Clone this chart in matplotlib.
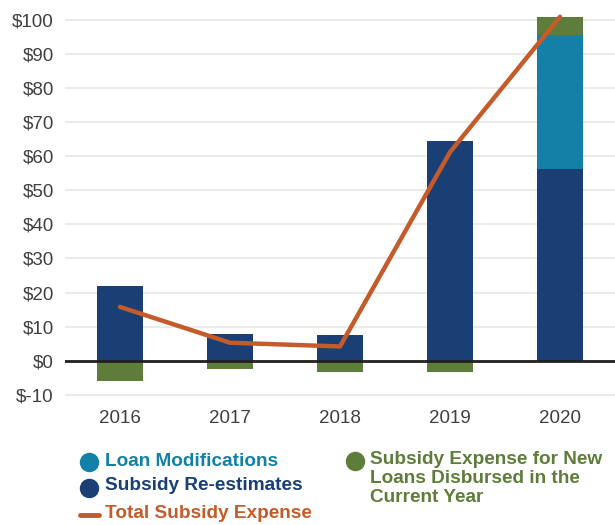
import matplotlib
matplotlib.use("Agg")
import matplotlib.pyplot as plt
from matplotlib.lines import Line2D
import numpy as np

plt.rcParams["font.family"] = ["Liberation Sans", "DejaVu Sans"]

# -- Data ($ millions) --------------------------------------------------------
years = ["2016", "2017", "2018", "2019", "2020"]
reestimates = [21.9, 7.8, 7.5, 64.4, 56.2]
modifications = [0.0, 0.0, 0.0, 0.0, 39.3]
new_loans = [-5.9, -2.5, -3.2, -3.2, 5.4]
total = [15.8, 5.3, 4.2, 61.2, 100.9]

yticks = list(range(-10, 101, 10))

NAVY = "#193f74"
TEAL = "#1380a8"
GREEN = "#5f7d3a"
ORANGE = "#c55b2a"
GRID = "#e8e8e8"
TICK = "#404040"

W, H = 615, 525
fig = plt.figure(figsize=(W / 100, H / 100), dpi=100)

def fx(px):
    return px / W

def fy(py):
    return 1 - py / H

ax = fig.add_axes([fx(65), fy(400), fx(615) - fx(65), fy(13) - fy(400)])

x = np.arange(len(years))
width = 0.42
re = np.array(reestimates)
mod = np.array(modifications)
nl = np.array(new_loans)

ax.bar(x, re, width, color=NAVY, zorder=2)
ax.bar(x, mod, width, bottom=re, color=TEAL, zorder=2)
nl_bottom = np.where(nl > 0, re + mod, 0)
ax.bar(x, nl, width, bottom=nl_bottom, color=GREEN, zorder=2)

ax.plot(x, total, color=ORANGE, lw=3.2, solid_capstyle="round",
        solid_joinstyle="round", zorder=4)

ax.axhline(0, color="#231f20", lw=2, zorder=3)

ax.set_xlim(-0.5, 4.5)
ax.set_ylim(-11.5, 102)
ax.set_yticks(yticks)
ax.set_yticklabels([f"${v}" for v in yticks])
ax.set_xticks(x)
ax.set_xticklabels(years)
ax.grid(axis="y", color=GRID, lw=1.2, zorder=0)
ax.set_axisbelow(True)
for s in ax.spines.values():
    s.set_visible(False)
ax.tick_params(length=0, labelsize=13.5, colors=TICK)
ax.tick_params(axis="y", pad=8)
ax.tick_params(axis="x", pad=7)

# -- Legend -------------------------------------------------------------------
def dot(px, py, color):
    fig.add_artist(Line2D([fx(px)], [fy(py)], marker="o", markersize=13,
                          color=color, transform=fig.transFigure))

lkw = dict(fontsize=13.7, fontweight="bold", va="center", ha="left")
dot(89, 462, TEAL)
fig.text(fx(105), fy(461), "Loan Modifications", color=TEAL, **lkw)
dot(89, 488, NAVY)
fig.text(fx(105), fy(486), "Subsidy Re-estimates", color=NAVY, **lkw)
fig.add_artist(Line2D([fx(80), fx(99)], [fy(515), fy(515)], lw=3.5,
                      color=ORANGE, solid_capstyle="round",
                      transform=fig.transFigure))
fig.text(fx(105), fy(514), "Total Subsidy Expense", color=ORANGE, **lkw)
dot(355, 461, GREEN)
green_lines = ["Subsidy Expense for New", "Loans Disbursed in the", "Current Year"]
for i, line in enumerate(green_lines):
    fig.text(fx(370), fy(459 + 19.5 * i), line, color=GREEN, **lkw)

fig.savefig("out.png", dpi=100)
